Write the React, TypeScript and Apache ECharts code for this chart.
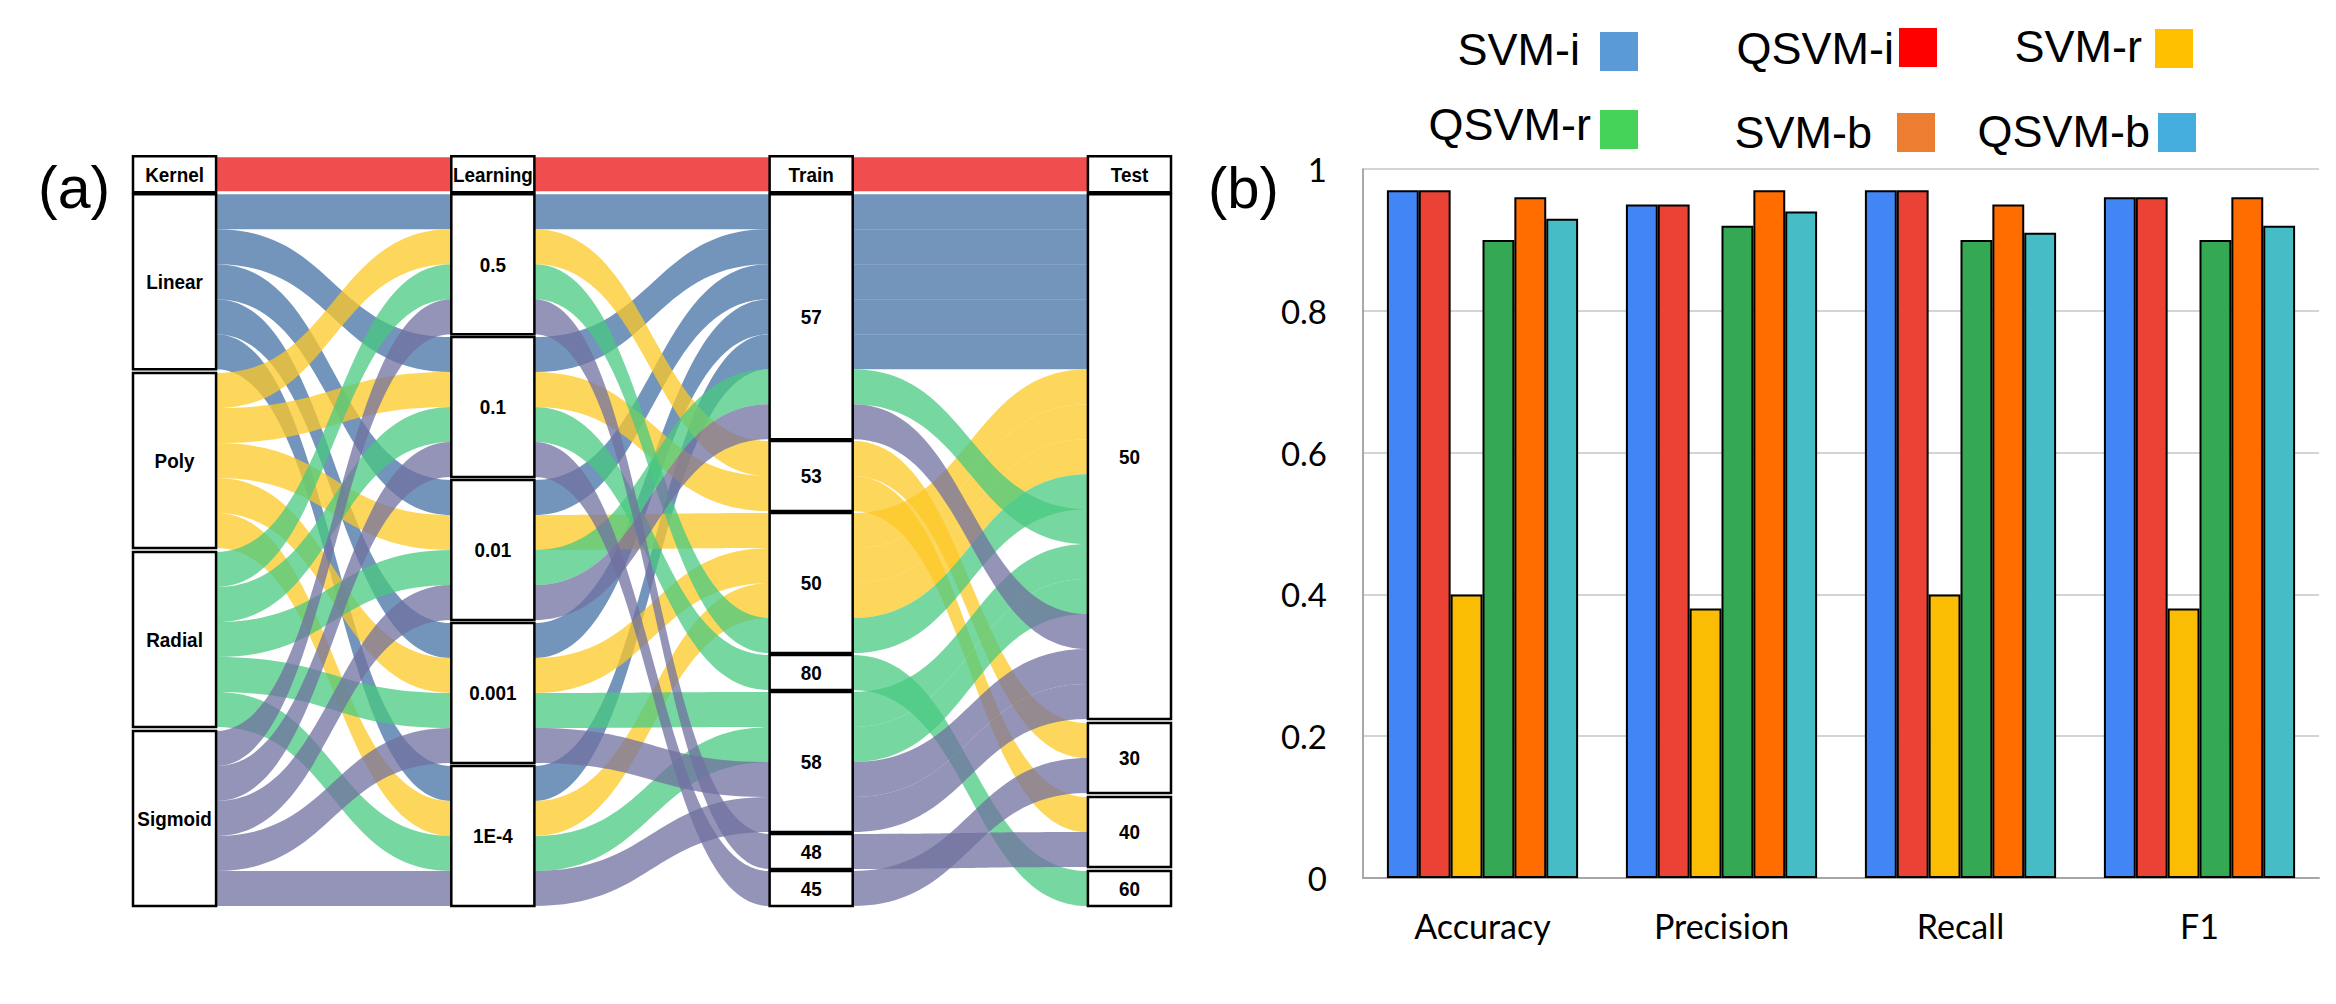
import React, { useEffect, useRef } from 'react';
import * as echarts from 'echarts';

// ---------- (a) alluvial data ----------
const stageNames = ['Kernel', 'Learning', 'Train', 'Test'];
const kernelNodes = ['Linear', 'Poly', 'Radial', 'Sigmoid'];
const learningNodes = ['0.5', '0.1', '0.01', '0.001', '1E-4'];
const trainNodes = ['57', '53', '50', '80', '58', '48', '45'];
const testNodes = ['50', '30', '40', '60'];

// one entry per run (kernel x learning rate)
const runKernel = [
  'Linear', 'Linear', 'Linear', 'Linear', 'Linear',
  'Poly', 'Poly', 'Poly', 'Poly', 'Poly',
  'Radial', 'Radial', 'Radial', 'Radial', 'Radial',
  'Sigmoid', 'Sigmoid', 'Sigmoid', 'Sigmoid', 'Sigmoid',
];
const runLearning = [
  '0.5', '0.1', '0.01', '0.001', '1E-4',
  '0.5', '0.1', '0.01', '0.001', '1E-4',
  '0.5', '0.1', '0.01', '0.001', '1E-4',
  '0.5', '0.1', '0.01', '0.001', '1E-4',
];
const runTrain = [
  '57', '57', '57', '57', '57',
  '53', '53', '50', '50', '50',
  '50', '80', '57', '58', '58',
  '48', '45', '57', '58', '58',
];
const runTest = [
  '50', '50', '50', '50', '50',
  '30', '40', '50', '50', '50',
  '50', '60', '50', '50', '50',
  '40', '30', '50', '50', '50',
];

const kernelColors = [
  'rgba(68,114,164,0.75)',
  'rgba(252,200,38,0.75)',
  'rgba(72,202,128,0.75)',
  'rgba(112,112,160,0.75)',
];

// ---------- (b) bar data ----------
const metrics = ['Accuracy', 'Precision', 'Recall', 'F1'];
const modelNames = ['SVM-i', 'QSVM-i', 'SVM-r', 'QSVM-r', 'SVM-b', 'QSVM-b'];
const svmI = [0.97, 0.95, 0.97, 0.96];
const qsvmI = [0.97, 0.95, 0.97, 0.96];
const svmR = [0.4, 0.38, 0.4, 0.38];
const qsvmR = [0.9, 0.92, 0.9, 0.9];
const svmB = [0.96, 0.97, 0.95, 0.96];
const qsvmB = [0.93, 0.94, 0.91, 0.92];
const barColors = ['#4285f4', '#ea4335', '#fbbc04', '#34a853', '#ff6d01', '#46bdc6'];
const legendColors = ['#5b9bd5', '#ff0000', '#ffc000', '#45d35a', '#ed7d31', '#45aede'];

// ---------- layout constants ----------
const BW = 0.261; // box width in stage units
const TOTAL_GAP = 0.34;
const Y_MIN = -1.09;
const Y_MAX = 20 + TOTAL_GAP;
const NODE_FONT = "'Liberation Sans', Arial, sans-serif";
const NODE_SCALE_X = 0.9;

const stageNodes = [kernelNodes, learningNodes, trainNodes, testNodes];
const runValues = [runKernel, runLearning, runTrain, runTest];

function layoutStage(s: number) {
  const nodes = stageNodes[s];
  const vals = runValues[s];
  const gap = TOTAL_GAP / (nodes.length - 1);
  const starts: Record<string, number> = {};
  const items: { s: number; start: number; count: number; name: string }[] = [];
  let y = 0;
  nodes.forEach((n) => {
    const count = vals.filter((v) => v === n).length;
    starts[n] = y;
    items.push({ s, start: y, count, name: n });
    y += count + gap;
  });
  const filled: Record<string, number> = {};
  const slots = vals.map((v) => {
    const k = filled[v] || 0;
    filled[v] = k + 1;
    return starts[v] + k;
  });
  return { items, slots };
}

function boxWithLabel(p1: number[], p2: number[], label: string) {
  return {
    type: 'group',
    children: [
      {
        type: 'rect',
        shape: { x: p1[0], y: p1[1], width: p2[0] - p1[0], height: p2[1] - p1[1] },
        style: { fill: '#fff', stroke: '#000', lineWidth: 2.5 },
      },
      {
        type: 'text',
        x: (p1[0] + p2[0]) / 2,
        y: (p1[1] + p2[1]) / 2,
        scaleX: NODE_SCALE_X,
        style: {
          text: label,
          x: 0, y: 0,
          textAlign: 'center', textVerticalAlign: 'middle',
          fontSize: 21, fontWeight: 'bold', fontFamily: NODE_FONT, fill: '#000',
        },
      },
    ],
  };
}

export default function App() {
  const ref = useRef<HTMLDivElement>(null);

  useEffect(() => {
    if (!ref.current) return;
    const chart = echarts.init(ref.current, null, { renderer: 'svg' });

    const layouts = [0, 1, 2, 3].map(layoutStage);
    const nodeItems = layouts.flatMap((l) => l.items);
    const ribbons: number[][] = [];
    for (let s = 0; s < 3; s++) {
      runKernel.forEach((k, r) => {
        ribbons.push([s, layouts[s].slots[r], layouts[s + 1].slots[r], kernelNodes.indexOf(k)]);
      });
    }

    const barSeriesData = [svmI, qsvmI, svmR, qsvmR, svmB, qsvmB];

    const legendPos = [
      { tx: 1580, ty: 49, rx: 1600, ry: 32 },
      { tx: 1894, ty: 48, rx: 1899, ry: 28 },
      { tx: 2142, ty: 46, rx: 2155, ry: 29 },
      { tx: 1591, ty: 124, rx: 1600, ry: 110 },
      { tx: 1872, ty: 132, rx: 1897, ry: 113 },
      { tx: 2150, ty: 131, rx: 2158, ry: 113 },
    ];

    const graphics: any[] = [
      {
        type: 'text', left: 38, top: 158,
        style: { text: '(a)', fontSize: 59, fontFamily: 'Liberation Sans', fill: '#000' },
      },
      {
        type: 'text', left: 1208, top: 158,
        style: { text: '(b)', fontSize: 58, fontFamily: 'Liberation Sans', fill: '#000' },
      },
    ];
    modelNames.forEach((name, i) => {
      const p = legendPos[i];
      graphics.push({
        type: 'text', x: p.tx, y: p.ty,
        style: {
          text: name, textAlign: 'right', textVerticalAlign: 'middle',
          fontSize: 45, fontFamily: 'Liberation Sans', fill: '#000',
        },
      });
      graphics.push({
        type: 'rect', shape: { x: p.rx, y: p.ry, width: 38, height: 39 },
        style: { fill: legendColors[i] },
      });
    });

    const option: any = {
      animation: false,
      backgroundColor: '#fff',
      grid: [
        { left: 133, top: 156, width: 1038, height: 750 },
        { left: 1363, top: 169, right: 17, bottom: 126 },
      ],
      xAxis: [
        { type: 'value', gridIndex: 0, min: 0, max: 3 + BW, show: false },
        {
          type: 'category', gridIndex: 1, data: metrics,
          axisLine: { show: true, lineStyle: { color: '#a6a6a6', width: 2 } },
          axisTick: { show: false },
          axisLabel: { fontSize: 34, fontFamily: 'Lato', color: '#000', margin: 30 },
        },
      ],
      yAxis: [
        { type: 'value', gridIndex: 0, min: Y_MIN, max: Y_MAX, inverse: true, show: false },
        {
          type: 'value', gridIndex: 1, min: 0, max: 1, interval: 0.2,
          axisLine: { show: true, lineStyle: { color: '#8c8c8c', width: 1.5 } },
          axisTick: { show: false },
          splitLine: { show: true, lineStyle: { color: '#d4d4d4', width: 2 } },
          axisLabel: { fontSize: 33, fontFamily: 'Lato', color: '#000', margin: 36 },
        },
      ],
      graphic: graphics,
      series: [
        {
          type: 'custom', name: 'flows', xAxisIndex: 0, yAxisIndex: 0, silent: true,
          data: ribbons,
          renderItem: (params: any, api: any) => {
            const s = api.value(0);
            const y0 = api.value(1);
            const y1 = api.value(2);
            const k = api.value(3);
            const a1 = api.coord([s + BW, y0]);
            const a2 = api.coord([s + BW, y0 + 1]);
            const b1 = api.coord([s + 1, y1]);
            const b2 = api.coord([s + 1, y1 + 1]);
            const xm = (a1[0] + b1[0]) / 2;
            const d = `M${a1[0]},${a1[1]} C${xm},${a1[1]} ${xm},${b1[1]} ${b1[0]},${b1[1]} L${b2[0]},${b2[1]} C${xm},${b2[1]} ${xm},${a2[1]} ${a2[0]},${a2[1]} Z`;
            const top = Math.min(a1[1], b1[1]);
            const bot = Math.max(a2[1], b2[1]);
            return {
              type: 'path',
              shape: { pathData: d, x: a1[0], y: top, width: b1[0] - a1[0], height: bot - top, layout: 'cover' },
              style: { fill: kernelColors[k] },
            };
          },
        },
        {
          type: 'custom', name: 'headerBands', xAxisIndex: 0, yAxisIndex: 0, silent: true,
          data: [[0], [1], [2]],
          renderItem: (params: any, api: any) => {
            const s = api.value(0);
            const p1 = api.coord([s + BW, -1.057]);
            const p2 = api.coord([s + 1, -0.086]);
            return {
              type: 'rect',
              shape: { x: p1[0], y: p1[1], width: p2[0] - p1[0], height: p2[1] - p1[1] },
              style: { fill: '#f04e4e' },
            };
          },
        },
        {
          type: 'custom', name: 'headers', xAxisIndex: 0, yAxisIndex: 0, silent: true,
          data: stageNames.map((_, i) => [i]),
          renderItem: (params: any, api: any) => {
            const s = api.value(0);
            const p1 = api.coord([s, -1.086]);
            const p2 = api.coord([s + BW, -0.057]);
            return boxWithLabel(p1, p2, stageNames[params.dataIndex]);
          },
        },
        {
          type: 'custom', name: 'nodes', xAxisIndex: 0, yAxisIndex: 0, silent: true,
          data: nodeItems.map((n) => [n.s, n.start, n.count]),
          renderItem: (params: any, api: any) => {
            const s = api.value(0);
            const start = api.value(1);
            const count = api.value(2);
            const p1 = api.coord([s, start]);
            const p2 = api.coord([s + BW, start + count]);
            return boxWithLabel(p1, p2, nodeItems[params.dataIndex].name);
          },
        },
        ...modelNames.map((name, i) => ({
          type: 'bar', name, xAxisIndex: 1, yAxisIndex: 1,
          data: barSeriesData[i],
          barGap: '0%', barCategoryGap: '20%',
          itemStyle: { color: barColors[i], borderColor: '#000', borderWidth: 2 },
        })),
      ],
    };

    chart.setOption(option);
    return () => chart.dispose();
  }, []);

  return (
    <div
      ref={ref}
      style={{ position: 'fixed', left: 0, top: 0, width: 2336, height: 1004, background: '#fff' }}
    />
  );
}
